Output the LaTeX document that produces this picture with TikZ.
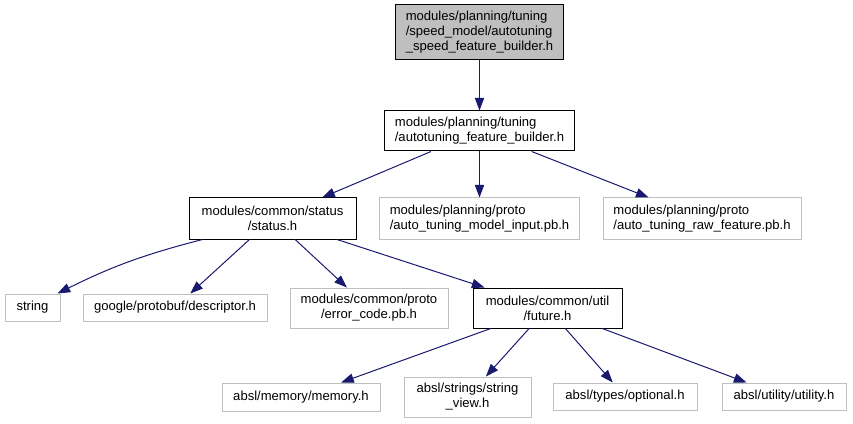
\documentclass[tikz,border=0pt]{standalone}
\usepackage{fontspec}
\setmainfont{Liberation Sans}
\usetikzlibrary{arrows.meta}
\definecolor{EdgeBlue}{HTML}{191970}
\definecolor{BoxGray}{HTML}{BFBFBF}

\tikzset{
  file/.style={draw=BoxGray, line width=0.75pt, inner sep=0pt,
    font=\fontsize{9.8}{11.25}\selectfont, align=center},
  docfile/.style={file, draw=black},
  topfile/.style={docfile, fill=BoxGray},
  boxsize/.style 2 args={minimum width=#1*0.75pt, minimum height=#2*0.75pt},
  inc/.style={EdgeBlue, line width=0.75pt, -{Triangle[length=9.5pt,width=7pt]}}
}

\begin{document}
\begin{tikzpicture}[x=0.75pt, y=-0.75pt]
                \useasboundingbox (0,0) rectangle (853,424);
                % header that is documented
                \node[topfile, boxsize={168}{55}, align=left] (top) at (479.5,32.5)
                    {modules/planning/tuning\\/speed\_model/autotuning\\\_speed\_feature\_builder.h};
                \node[docfile, boxsize={190}{40}, align=left] (builder) at (479.5,131)
                    {modules/planning/tuning\\/autotuning\_feature\_builder.h};
                % second level
                \node[docfile, boxsize={167}{41}] (status) at (272.5,218.5)
                    {modules/common/status\\/status.h};
                \node[file, boxsize={200}{41}, align=left] (modelinput) at (479.5,218.5)
                    {modules/planning/proto\\/auto\_tuning\_model\_input.pb.h};
                \node[file, boxsize={198}{41}, align=left] (rawfeature) at (702,218.5)
                    {modules/planning/proto\\/auto\_tuning\_raw\_feature.pb.h};
                % includes of status.h
                \node[file, boxsize={55}{27}] (string) at (32.5,307.5) {string};
                \node[file, boxsize={184}{27}] (descriptor) at (175,307.5)
                    {google/protobuf/descriptor.h};
                \node[file, boxsize={158}{40}] (errorcode) at (369,308)
                    {modules/common/proto\\/error\_code.pb.h};
                \node[docfile, boxsize={149}{40}] (future) at (547.5,308)
                    {modules/common/util\\/future.h};
                % includes of future.h
                \node[file, boxsize={158}{28}] (memory) at (301,397) {absl/memory/memory.h};
                \node[file, boxsize={127}{40}] (stringview) at (467.5,397)
                    {absl/strings/string\\\_view.h};
                \node[file, boxsize={144}{27}] (optional) at (625,396.5) {absl/types/optional.h};
                \node[file, boxsize={124}{27}] (utility) at (784,396.5) {absl/utility/utility.h};

                \draw[inc] (top) -- (builder);
                \draw[inc] (builder) -- (status);
                \draw[inc] (builder) -- (modelinput);
                \draw[inc] (builder) -- (rawfeature);
                \draw[inc] ([xshift=10.5pt]status.south west)
                    to[bend right=6] ([xshift=-2.25pt]string.north east);
                \draw[inc] (status) -- (descriptor);
                \draw[inc] (status) -- (errorcode);
                \draw[inc] (status) -- (future);
                \draw[inc] (future) -- (memory);
                \draw[inc] (future) -- (stringview);
                \draw[inc] (future) -- (optional);
                \draw[inc] (future) -- (utility);
            \end{tikzpicture}
\end{document}
